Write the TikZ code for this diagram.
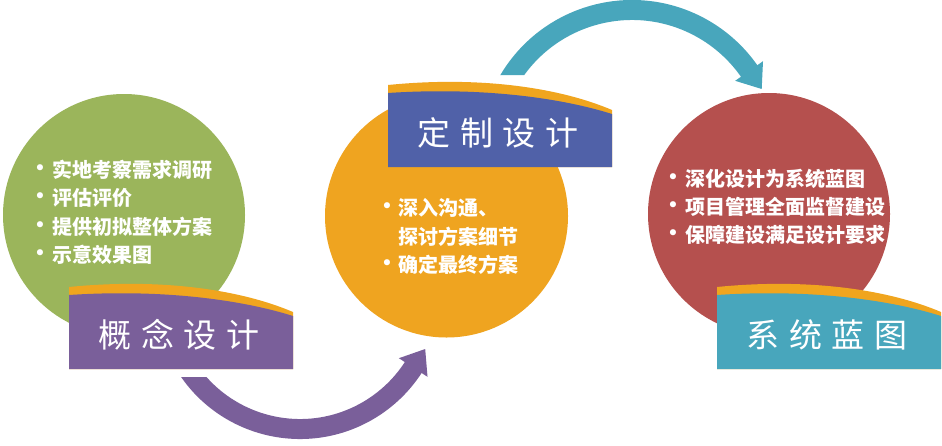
\documentclass[tikz,border=0pt]{standalone}
\usepackage{fontspec}
\newfontfamily\cjk{Noto Sans CJK SC}
\newfontfamily\symf{DejaVu Sans}
\definecolor{greenC}{RGB}{155,181,91}
\definecolor{orangeC}{RGB}{239,164,32}
\definecolor{redC}{RGB}{181,80,78}
\definecolor{purpleC}{RGB}{122,95,154}
\definecolor{blueC}{RGB}{80,97,168}
\definecolor{tealC}{RGB}{72,166,188}
\definecolor{bandC}{RGB}{240,165,30}
\tikzset{
  item/.style={text=white, font=\cjk\bfseries\fontsize{20}{20}\selectfont, anchor=west, inner sep=0pt, text height=17pt, text depth=3pt},
  bul/.style={text=white, font=\symf\fontsize{21}{21}\selectfont, inner sep=0pt},
  bannertext/.style={text=white, font=\cjk\fontsize{33}{33}\selectfont, inner sep=0pt, text height=28pt, text depth=4pt},
  disc/.style={circle, inner sep=0pt, draw=none}
}
\newcommand{\mybanner}[5]{%
  \begin{scope}[shift={(#1,#2)}]
    \fill[bandC] (0,0) .. controls (90,-9) and (170,2) .. (224,25) -- (224,82) -- (0,82) -- cycle;
    \fill[#3] (0,8) .. controls (90,2) and (170,12) .. (224,29) -- (224,82) -- (0,82) -- cycle;
    \node[bannertext] (#4) at (110,48.5) {#5};
  \end{scope}}
\newcommand{\gap}{\hspace{9.5pt}}
\begin{document}
\begin{tikzpicture}[x=1pt,y=-1pt]
\useasboundingbox (0,0) rectangle (942,445);
\fill[white] (0,0) rectangle (942,445);
% circles
\node[disc, fill=greenC, minimum size=242pt] (cg) at (124,215) {};
\node[disc, fill=orangeC, minimum size=243pt] (co) at (446.5,216) {};
\node[disc, fill=redC, minimum size=242pt] (cr) at (769,214) {};
% purple arrow
\coordinate (pc) at (300,294);
\begin{scope}
  \clip (0,377) rectangle (942,445) (300,0) rectangle (942,445);
  \draw[purpleC, line width=20pt] (pc) ++(150:135) arc[start angle=150, end angle=31, radius=135];
\end{scope}
\coordinate (pa1) at (398.9,358.2);
\coordinate (pa2) at (425.2,349.0);
\coordinate (pa3) at (427.5,376.8);
\fill[purpleC] (pa1) -- (pa2) -- (pa3) -- cycle;
% teal arrow
\coordinate (tc) at (632,153);
\begin{scope}
  \clip (0,0) rectangle (942,75) (640,0) rectangle (942,445);
  \draw[tealC, line width=20pt] (tc) ++(-152:143) arc[start angle=-152, end angle=-33, radius=143];
\end{scope}
\coordinate (ta1) at (735.2,80.8);
\coordinate (ta2) at (761.7,89.0);
\coordinate (ta3) at (763.0,61.2);
\fill[tealC] (ta1) -- (ta2) -- (ta3) -- cycle;
% banners
\mybanner{69}{287}{purpleC}{b1}{概\gap 念\gap 设\gap 计}
\mybanner{388}{85}{blueC}{b2}{定\gap 制\gap 设\gap 计}
\mybanner{717}{287}{tealC}{b3}{系\gap 统\gap 蓝\gap 图}
% green list
\node[bul] (gd1) at (40,170) {•};
\node[item] (g1) at (52,170) {实地考察需求调研};
\node[bul] (gd2) at (40,198) {•};
\node[item] (g2) at (52,198) {评估评价};
\node[bul] (gd3) at (40,227) {•};
\node[item] (g3) at (52,227) {提供初拟整体方案};
\node[bul] (gd4) at (40,255) {•};
\node[item] (g4) at (52,255) {示意效果图};
% orange list
\node[bul] (od1) at (387,208) {•};
\node[item] (o1) at (398,208) {深入沟通、};
\node[item] (o2) at (398,237) {探讨方案细节};
\node[bul] (od3) at (387,265) {•};
\node[item] (o3) at (398,265) {确定最终方案};
% red list
\node[bul] (rd1) at (673,179.5) {•};
\node[item] (r1) at (685,179.5) {深化设计为系统蓝图};
\node[bul] (rd2) at (673,207.5) {•};
\node[item] (r2) at (685,207.5) {项目管理全面监督建设};
\node[bul] (rd3) at (673,235.5) {•};
\node[item] (r3) at (685,235.5) {保障建设满足设计要求};
\end{tikzpicture}
\end{document}
